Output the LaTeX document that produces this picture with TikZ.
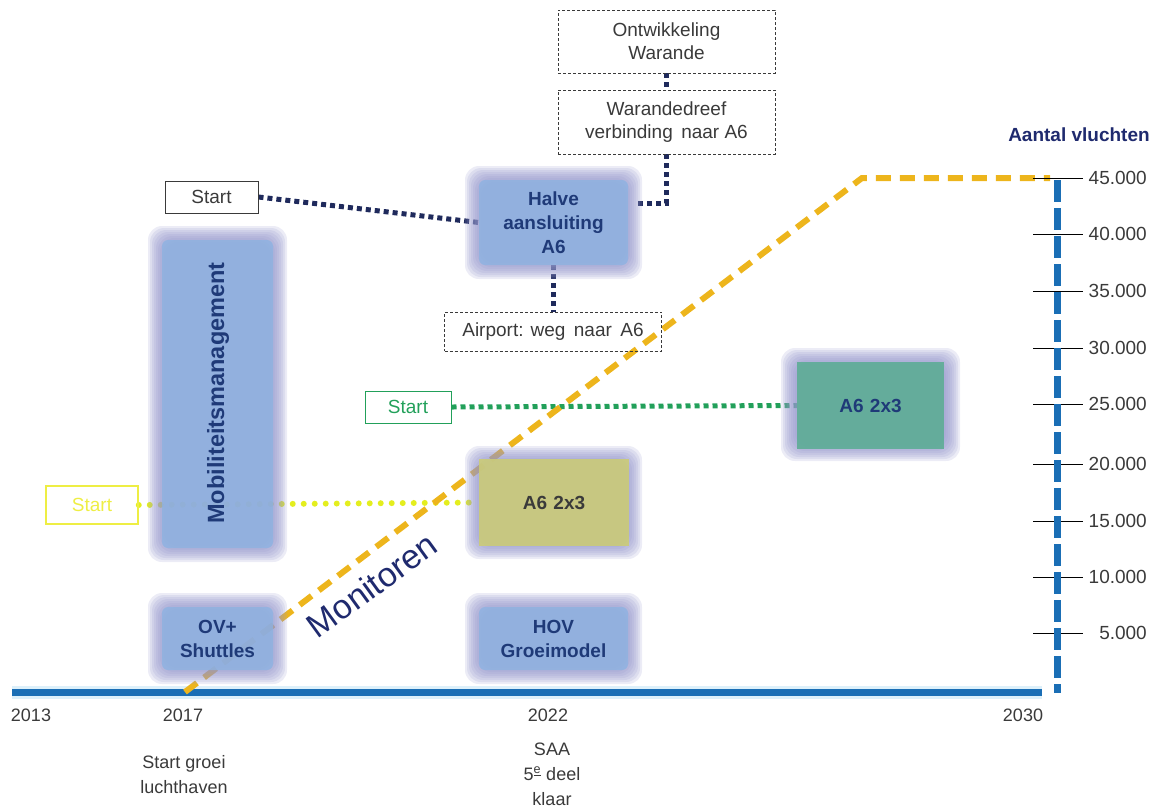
\documentclass[tikz,border=0pt]{standalone}
\usepackage{fontspec}
\setmainfont{Liberation Sans}
\pgfdeclarelayer{bg}
\pgfsetlayers{bg,main}
\definecolor{boxblue}{HTML}{8DB3E2}
\definecolor{glowc}{HTML}{9597CC}
\definecolor{boxyellow}{HTML}{CBCB78}
\definecolor{boxgreen}{HTML}{5FAD97}
\definecolor{tlblue}{HTML}{1A6EB5}
\definecolor{tlhalo}{HTML}{DDF0FA}
\definecolor{gold}{HTML}{EDB51C}
\definecolor{navydot}{HTML}{1F2A5C}
\definecolor{greendot}{HTML}{22A05A}
\definecolor{yellowdot}{HTML}{E4EE1E}
\definecolor{yellowtxt}{HTML}{EEEE44}
\definecolor{navytext}{HTML}{1F3A78}
\definecolor{textgray}{HTML}{3A3A3A}
\definecolor{monicol}{HTML}{1F2A6E}
\newcommand\glowrect[4]{%
  \foreach \i in {0,2,...,16} {%
    \fill[glowc, opacity=0.18, rounded corners=14] ({#1+\i},{#2+\i}) rectangle ({#3-\i},{#4-\i});}%
}
\begin{document}
\begin{tikzpicture}[x=1pt,y=-1pt,
  txt/.style={text=textgray, font=\fontsize{18}{25}\selectfont, align=center, inner sep=0},
  boxtxt/.style={text=navytext, font=\bfseries\fontsize{19}{24}\selectfont, align=center, inner sep=0},
  inbox/.style={rectangle, rounded corners=6, inner sep=0, fill opacity=0.78, text opacity=1},
  tagbox/.style={rectangle, draw=textgray, line width=1, inner sep=0, text=textgray,
    font=\fontsize{19}{23}\selectfont, align=center},
  dashbox/.style={tagbox, dash pattern=on 3 off 2, line width=0.9},
  navyline/.style={navydot, line width=5, dash pattern=on 5 off 4},
  greenline/.style={greendot, line width=5, dash pattern=on 5 off 4},
  yellowline/.style={yellowdot, line width=6, line cap=round, dash pattern=on 0 off 11},
  goldline/.style={gold, line width=6, dash pattern=on 15 off 9},
  tick/.style={black, line width=0.9},
  ticklab/.style={text=textgray, font=\fontsize{19}{23}\selectfont, anchor=east, inner sep=0}
]
\useasboundingbox (0,0) rectangle (1168,807);

% timeline and axis coordinates
\coordinate (t0) at (12,692);
\coordinate (t1) at (1042,692);
\coordinate (a0) at (1057,180);
\coordinate (a1) at (1057,693);
\coordinate (g0) at (185,692);
\coordinate (g1) at (862,178);
\coordinate (g2) at (1050,178);

% glows
\glowrect{148}{226}{287}{562}
\glowrect{148}{593}{287}{684}
\glowrect{465}{166}{642}{279}
\glowrect{465}{446}{642}{559}
\glowrect{465}{593}{642}{684}
\glowrect{781}{348}{960}{461}

% boxes
\node[inbox, fill=boxblue, minimum width=111, minimum height=308] (mob) at (217.5,394) {};
\node[boxtxt, rotate=90, font=\bfseries\fontsize{23.5}{28}\selectfont] (mobtxt) at (218,393) {Mobiliteitsmanagement};
\node[inbox, fill=boxblue, minimum width=111, minimum height=63, boxtxt] (ov) at (217.5,638.5) {OV+\\Shuttles};
\node[inbox, fill=boxblue, minimum width=149, minimum height=85, boxtxt] (halve) at (553.5,222.5) {Halve\\aansluiting\\A6};
\node[inbox, fill=boxblue, minimum width=149, minimum height=63, boxtxt] (hov) at (553.5,638.5) {HOV\\Groeimodel};
\node[inbox, rounded corners=0, fill opacity=0.9, fill=boxyellow, minimum width=150, minimum height=87, boxtxt, text=textgray] (a6y) at (554,502.5) {A6\,\,2x3};
\node[inbox, rounded corners=0, fill opacity=0.92, fill=boxgreen, minimum width=147, minimum height=87, boxtxt] (a6g) at (870.5,405.5) {A6\,\,2x3};

% tag boxes
\node[tagbox, minimum width=93, minimum height=32] (startn) at (211.5,197) {Start};
\node[dashbox, minimum width=217, minimum height=63] (ontw) at (666.5,41.5) {Ontwikkeling\\Warande};
\node[dashbox, minimum width=217, minimum height=64] (warande) at (666.5,122) {Warandedreef\\verbinding\, naar A6};
\node[dashbox, minimum width=217, minimum height=39] (airport) at (553,331.5) {Airport: weg\, naar\, A6};
\node[tagbox, draw=greendot, text=greendot, minimum width=86, minimum height=32] (startg) at (408,407) {Start};
\node[tagbox, draw=yellowtxt, line width=1.5, text=yellowtxt, minimum width=92, minimum height=38] (starty) at (92,505) {Start};

\coordinate (hk) at (636,203);

% connectors and lines behind
\begin{pgfonlayer}{bg}
  \draw[tlhalo, line width=13] (t0) -- (t1);
  \draw[tlblue, line width=7] (t0) -- (t1);
  \draw[navyline] (startn.east) -- (halve.west);
  \draw[navyline] (ontw.south) -- (warande.north);
  \draw[navyline] (warande.south) |- (hk);
  \draw[navyline] (halve.south) -- (halve.south |- airport.north);
  \draw[greenline] (startg.east) -- (a6g.west);
  \draw[yellowline] (starty.east) -- (a6y.west);
\end{pgfonlayer}

% vertical axis with ticks
\foreach \yy/\lab in {178/45.000, 234/40.000, 291/35.000, 348/30.000, 404/25.000, 464/20.000, 521/15.000, 577/10.000, 633/5.000} {
  \draw[tick] (1033,\yy) -- (1083,\yy);
  \node[ticklab] (lab\yy) at (1147,\yy) {\lab};
}
\begin{pgfonlayer}{bg}
  \draw[goldline] (g0) -- (g1) -- (g2);
\end{pgfonlayer}
\draw[tlblue, line width=7, dash pattern=on 22 off 6] (a0) -- (a1);
\node[text=monicol, font=\bfseries\fontsize{19}{23}\selectfont, inner sep=0] (aantal) at (1079,135) {Aantal vluchten};

% Monitoren
\node[text=monicol, font=\fontsize{34}{40}\selectfont, rotate=36, anchor=base, inner sep=0] (moni) at (379,595) {Monitoren};

% year labels
\node[txt] (y2013) at (31,715) {2013};
\node[txt] (y2017) at (183,715) {2017};
\node[txt] (y2022) at (548,715) {2022};
\node[txt] (y2030) at (1023,715) {2030};
\node[txt] (groei) at (184,775) {Start groei\\luchthaven};
\node[txt] (saa) at (552,774) {SAA\\5\textsuperscript{\underline{e}} deel\\klaar};
\end{tikzpicture}
\end{document}
